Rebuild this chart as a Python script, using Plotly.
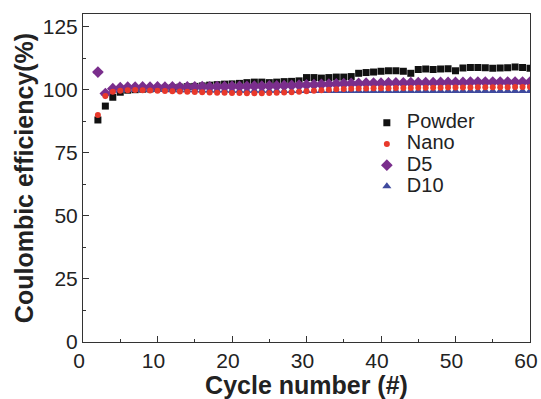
import plotly.graph_objects as go

cycles = list(range(2, 61))

powder = [88, 93.5, 97, 99, 99.8, 100, 100.2, 100.3, 100.5, 100.6, 100.8, 101, 101.2, 101.3,
          101.5, 101.8, 102, 102.2, 102.3, 102.5, 102.8, 103, 103, 102.8, 103, 103.2, 103.3,
          103.5, 104.8, 104.8, 104.6, 104.8, 105, 105, 105.2, 106.5, 106.8, 107, 107.3, 107.5,
          107.5, 107.3, 106.5, 108, 108.2, 108, 108.2, 108.3, 107.5, 108.6, 108.8, 108.8,
          108.7, 108.5, 108.6, 108.7, 109, 108.8, 108.5]

nano = [90, 97.5, 99.2, 99.6, 99.8, 99.9, 99.8, 99.7, 99.6, 99.5, 99.4, 99.3, 99.2, 99.1,
        99.0, 98.9, 98.8, 98.8, 98.7, 98.7, 98.6, 98.6, 98.6, 98.7, 98.8, 98.9, 99.0, 99.2,
        99.4, 99.6, 99.8, 100.0, 100.2, 100.3, 100.4, 100.5, 100.5, 100.6, 100.6, 100.6,
        100.7, 100.7, 100.7, 100.8, 100.8, 100.8, 100.8, 100.9, 100.9, 100.9, 100.9, 101.0,
        101.0, 101.0, 101.0, 101.0, 101.1, 101.1, 101.1]

d5 = [107, 98.5, 100.4, 100.8, 101, 101, 101.1, 101, 101.1, 101, 101.1, 101, 101.1, 101.1,
      101.2, 101.1, 101.2, 101.2, 101.3, 101.3, 101.3, 101.4, 101.4, 101.5, 101.5, 101.6,
      101.7, 101.8, 101.9, 102.0, 102.1, 102.2, 102.3, 102.4, 102.5, 102.5, 102.6, 102.6,
      102.6, 102.7, 102.7, 102.7, 102.8, 102.8, 102.8, 102.8, 102.9, 102.9, 102.9, 102.9,
      103.0, 103.0, 103.0, 103.0, 103.0, 103.0, 103.0, 103.0, 103.0]

d10 = [107, 98.5, 99.6, 99.8, 99.9, 99.9, 100, 99.9, 99.9, 99.9, 99.8, 99.8, 99.8, 99.8,
       99.7, 99.7, 99.7, 99.7, 99.6, 99.6, 99.6, 99.6, 99.6, 99.6, 99.6, 99.5, 99.5, 99.5,
       99.5, 99.5, 99.5, 99.5, 99.5, 99.5, 99.5, 99.5, 99.5, 99.5, 99.5, 99.5, 99.5, 99.5,
       99.5, 99.5, 99.5, 99.5, 99.5, 99.5, 99.5, 99.5, 99.5, 99.5, 99.5, 99.5, 99.5, 99.5,
       99.5, 99.5, 99.5]

series = [
    ("Powder", powder, "square", "#111111", 7, 1),
    ("D10", d10, "triangle-up", "#3f4a9e", 8, 4),
    ("D5", d5, "diamond", "#7a2e8c", 9, 3),
    ("Nano", nano, "circle", "#e8392b", 6, 2),
]

fig = go.Figure()
for name, vals, sym, col, sz, rank in series:
    fig.add_trace(go.Scatter(
        x=cycles, y=vals, mode="markers", legendrank=rank,
        name='<span style="font-size:20px">' + name + '</span>',
        marker=dict(symbol=sym, color=col, size=sz, line=dict(width=0)),
    ))

font_family = "Liberation Sans, Arial, sans-serif"
fig.update_layout(
    width=541, height=399,
    margin=dict(l=83, r=11, t=14, b=57),
    paper_bgcolor="white", plot_bgcolor="white",
    font=dict(family=font_family, color="#222222", size=20),
    showlegend=True,
    legend=dict(x=0.635, y=0.716, xanchor="left", yanchor="top",
                bgcolor="rgba(0,0,0,0)", font=dict(size=14),
                itemwidth=30, tracegroupgap=0),
)
fig.update_xaxes(
    range=[0, 60], dtick=10, tick0=0, ticks="inside", ticklen=6, tickwidth=1,
    tickcolor="#333333", showline=True, linecolor="#333333", linewidth=1, mirror=True,
    showgrid=False, zeroline=False, automargin=False,
    ticklabeloverflow="allow", ticklabelshift=-4,
    minor=dict(dtick=5, ticks="inside", ticklen=3, tickcolor="#333333", showgrid=False),
    title=dict(text="<b>Cycle number (#)</b>", font=dict(size=25), standoff=2),
    tickfont=dict(size=21),
)
fig.update_yaxes(
    range=[0, 130], dtick=25, tick0=0, ticks="inside", ticklen=6, tickwidth=1,
    tickcolor="#333333", showline=True, linecolor="#333333", linewidth=1, mirror=True,
    showgrid=False, zeroline=False, automargin=False,
    minor=dict(dtick=12.5, ticks="inside", ticklen=3, tickcolor="#333333", showgrid=False),
    title=dict(text="<b>Coulombic efficiency(%)</b>", font=dict(size=25), standoff=2),
    tickfont=dict(size=21),
)

fig.write_html(
    "out.html",
    config={"displayModeBar": False},
    post_script="document.body.style.margin='0';document.body.style.overflow='hidden';",
)
